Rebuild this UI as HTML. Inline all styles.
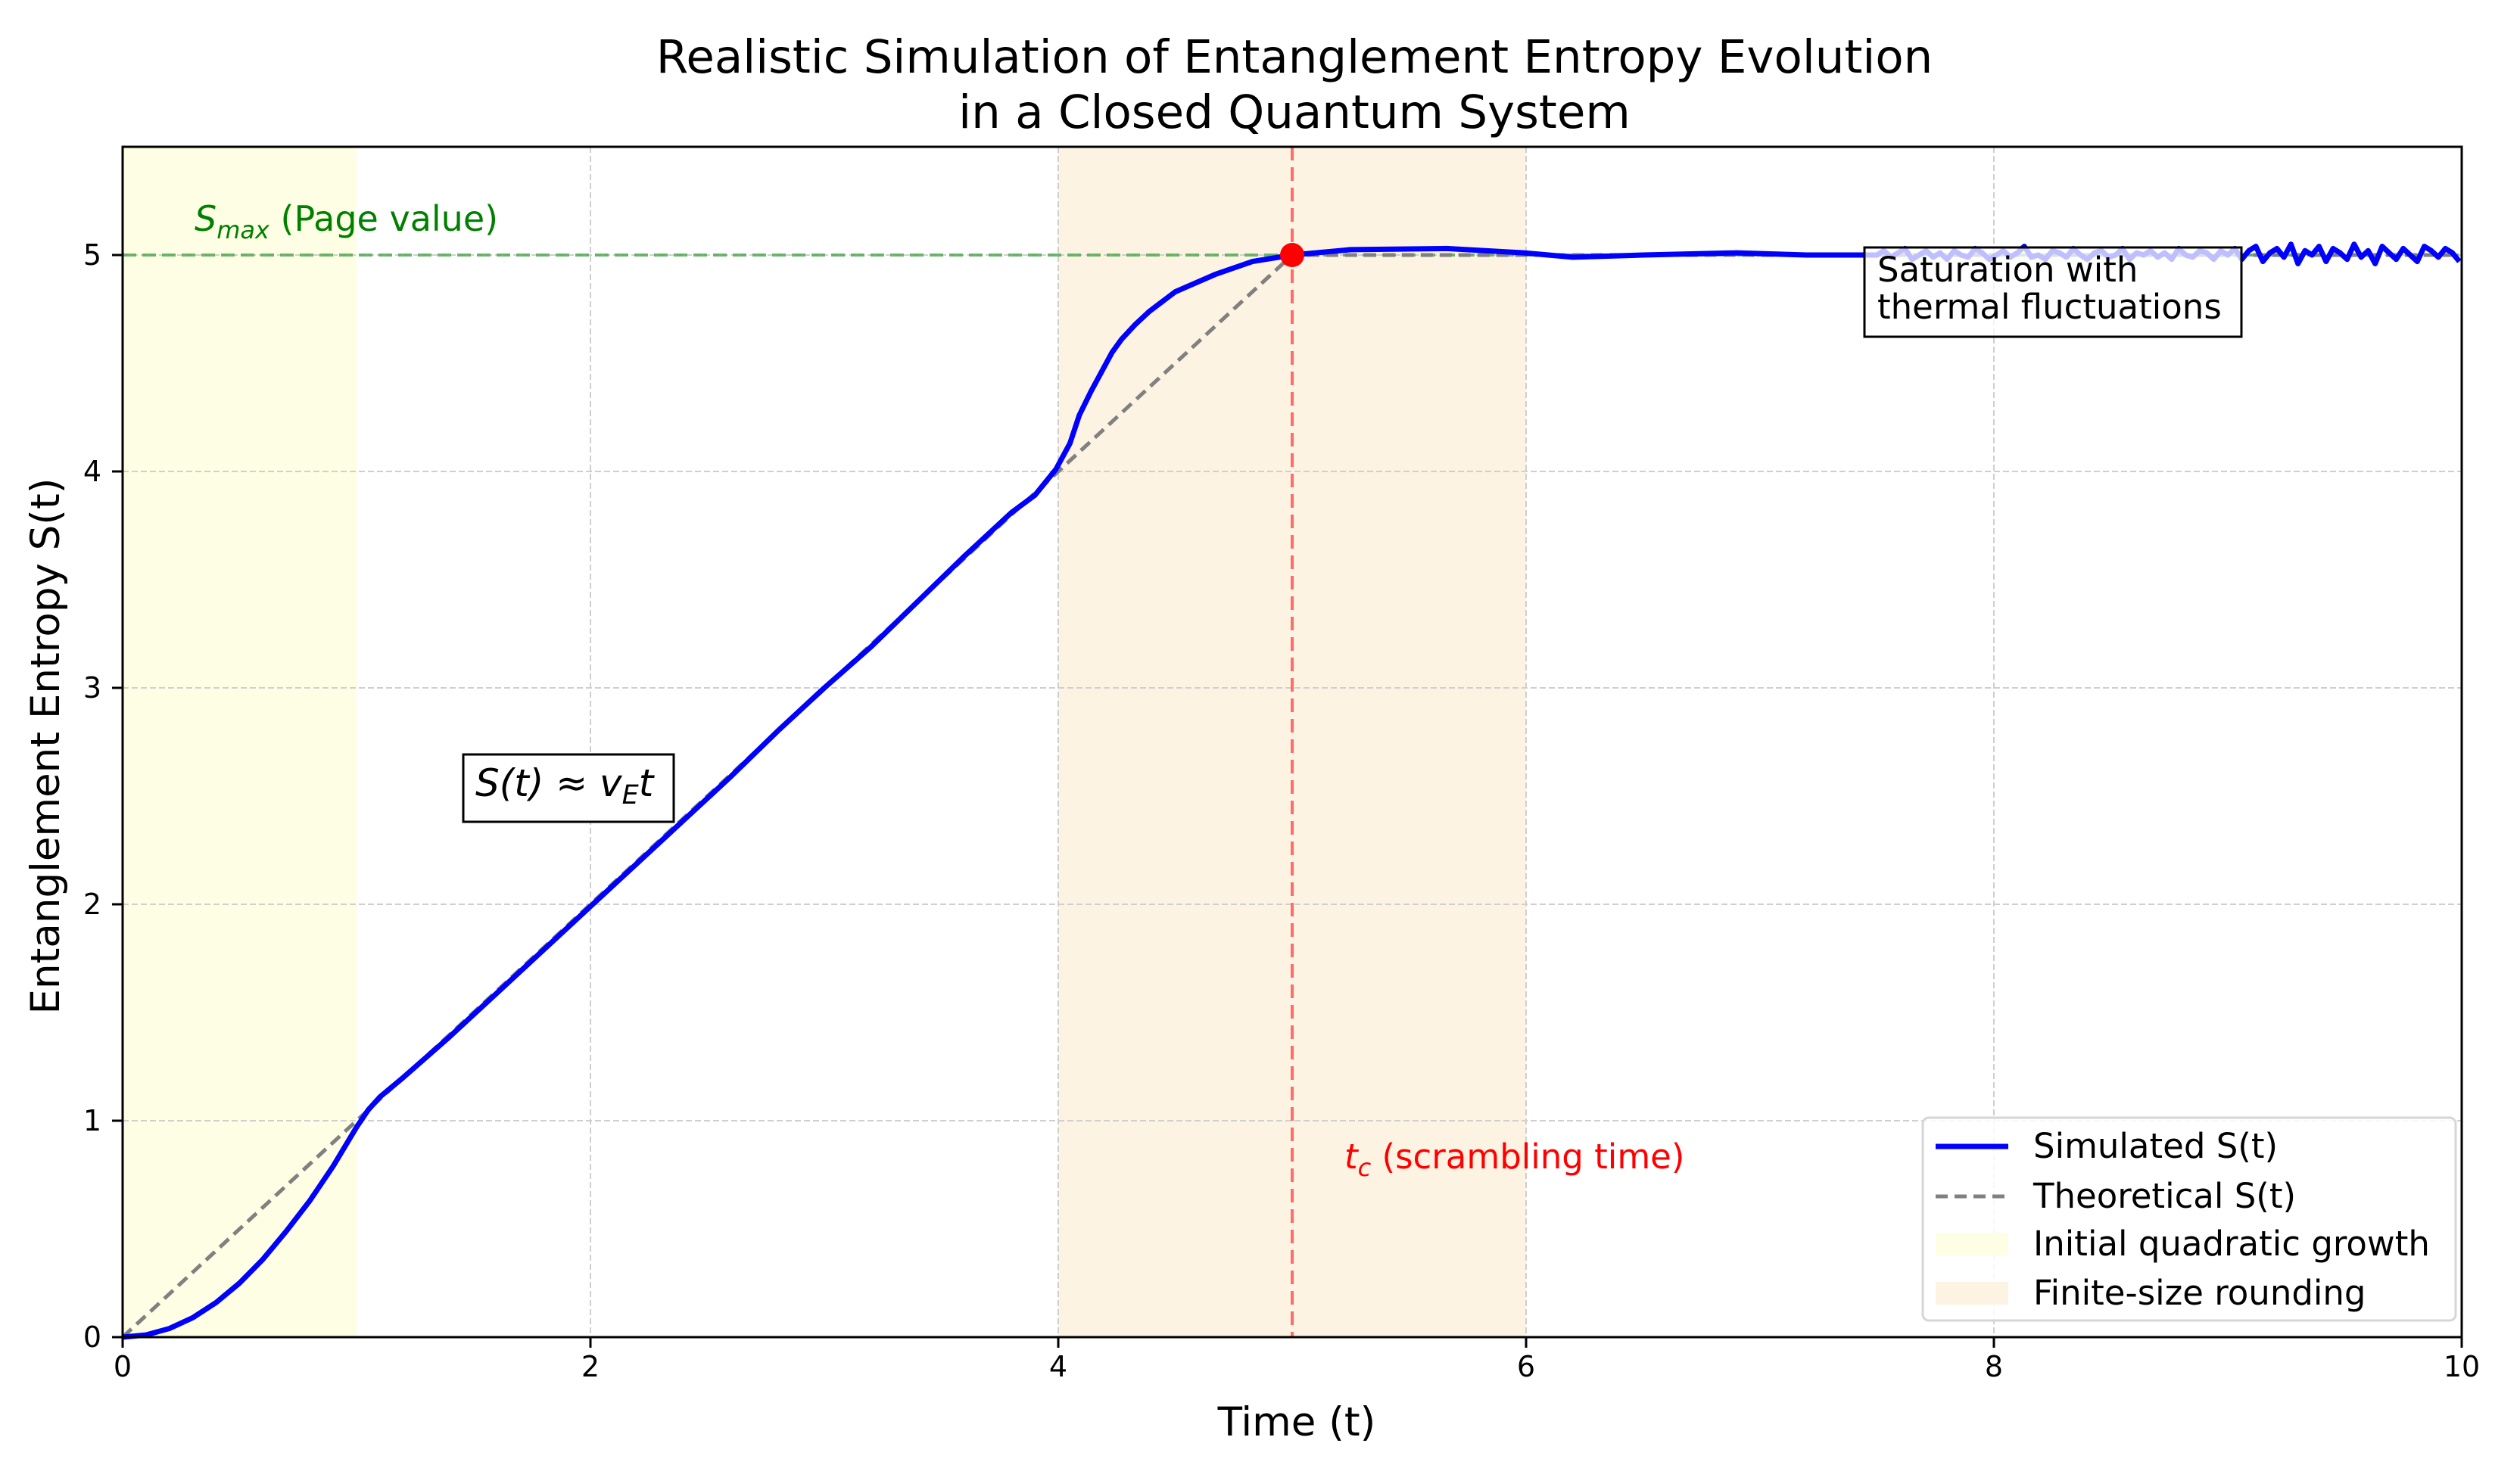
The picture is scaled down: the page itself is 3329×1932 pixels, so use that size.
<!DOCTYPE html>
<html><head><meta charset="utf-8"><style>
html,body{margin:0;padding:0;background:#fff;}
svg{display:block;font-family:"DejaVu Sans","Liberation Sans",sans-serif;}
</style></head><body>
<svg id="chart" width="3329" height="1932" viewBox="0 0 3329 1932" xmlns="http://www.w3.org/2000/svg">
<rect width="3329" height="1932" fill="#fff"/>
<g id="title" font-size="61" text-anchor="middle" fill="#000">
<text x="1710" y="96">Realistic Simulation of Entanglement Entropy Evolution</text>
<text x="1710" y="169">in a Closed Quantum System</text>
</g>
<g id="plot"></g>
</svg>
<script>
const xTicks=[0,2,4,6,8,10];
const yTicks=[0,1,2,3,4,5];
const xTickLabels=["0","2","4","6","8","10"];
const yTickLabels=["0","1","2","3","4","5"];
// simulated S(t) smooth part
const simT=[0,0.1,0.2,0.3,0.4,0.5,0.6,0.7,0.8,0.9,1.0,1.05,1.1,1.2,1.4,1.6,1.8,2.0,2.2,2.4,2.6,2.8,3.0,3.2,3.4,3.6,3.8,3.9,3.99,4.05,4.09,4.14,4.19,4.23,4.27,4.33,4.39,4.5,4.67,4.83,5.0,5.25,5.66,5.99,6.2,6.5,6.9,7.2,7.47];
const simS=[0,0.01,0.04,0.09,0.16,0.25,0.36,0.49,0.63,0.79,0.97,1.05,1.11,1.2,1.39,1.59,1.79,1.99,2.19,2.39,2.59,2.8,3.0,3.19,3.4,3.61,3.81,3.89,4.01,4.13,4.26,4.37,4.47,4.55,4.61,4.68,4.74,4.83,4.91,4.97,5.0,5.025,5.03,5.01,4.99,5.0,5.01,5.0,5.0];
// noisy saturation part, t from 7.50 in 0.03 steps
const noiseStart=7.5, noiseStep=0.03;
const noiseS=[5.00,5.02,4.99,5.01,5.03,4.98,5.00,5.02,4.99,5.01,4.98,5.02,5.00,4.99,5.03,5.01,4.98,5.00,5.02,4.99,5.01,5.04,4.99,5.00,4.98,5.02,5.01,4.99,5.03,5.00,4.98,5.01,5.02,4.99,5.00,5.03,4.98,5.01,5.00,5.02,4.99,5.01,4.98,5.03,5.00,4.99,5.02,5.01,4.98,5.02,5.00,
5.03,4.98,5.02,5.04,4.97,5.01,5.03,4.99,5.05,4.96,5.02,5.00,5.04,4.97,5.03,5.01,4.98,5.05,4.99,5.02,4.96,5.04,5.01,4.98,5.03,5.00,4.97,5.04,5.02,4.99,5.03,5.01,4.97];
const theoT=[0,5,10];
const theoS=[0,5,5];
const sMax=5, tc=5;
const spanInitial=[0,1], spanFinite=[4,6];

const NS="http://www.w3.org/2000/svg";
const L=162,R=3252,T=194,B=1767,xMin=0,xMax=10,yMin=0,yMax=5.5;
const X=v=>L+(v-xMin)/(xMax-xMin)*(R-L);
const Y=v=>B-(v-yMin)/(yMax-yMin)*(B-T);
const plot=document.getElementById('plot');
function mk(tag,attrs,parent){const e=document.createElementNS(NS,tag);for(const k in attrs)e.setAttribute(k,attrs[k]);(parent||plot).appendChild(e);return e;}

let e;
e=mk('rect',{x:X(spanInitial[0]),y:T,width:X(spanInitial[1])-X(spanInitial[0]),height:B-T,fill:'#fefee4'});


e=mk('rect',{x:X(spanFinite[0]),y:T,width:X(spanFinite[1])-X(spanFinite[0]),height:B-T,fill:'#fdf3e3'});



// grid
xTicks.forEach(v=>{if(v>xMin&&v<xMax){e=mk('line',{x1:X(v),x2:X(v),y1:T,y2:B,stroke:'#cfcfcf','stroke-width':2,'stroke-dasharray':'8 4'});

}});
yTicks.forEach(v=>{if(v>yMin){e=mk('line',{x1:L,x2:R,y1:Y(v),y2:Y(v),stroke:'#cfcfcf','stroke-width':2,'stroke-dasharray':'8 4'});

}});

// Smax line
e=mk('line',{x1:L,x2:R,y1:Y(sMax),y2:Y(sMax),stroke:'#55aa55','stroke-width':4,'stroke-dasharray':'18 8','stroke-opacity':0.85});


// theoretical
e=mk('polyline',{points:theoT.map((t,i)=>X(t)+','+Y(theoS[i])).join(' '),fill:'none',stroke:'#808080','stroke-width':5,'stroke-dasharray':'16 9'});


// simulated
const pts=simT.map((t,i)=>X(t)+','+Y(simS[i]));
noiseS.forEach((s,i)=>pts.push(X(noiseStart+i*noiseStep)+','+Y(s)));
e=mk('polyline',{points:pts.join(' '),fill:'none',stroke:'#0000ff','stroke-width':7,'stroke-linejoin':'round'});


// tc line
e=mk('line',{x1:X(tc),x2:X(tc),y1:T,y2:B,stroke:'#ff5555','stroke-width':4,'stroke-dasharray':'18 9','stroke-opacity':0.85});


e=mk('ellipse',{cx:X(tc),cy:Y(sMax),rx:16,ry:16,fill:'#ff0000'});



// axes frame
e=mk('rect',{x:L,y:T,width:R-L,height:B-T,fill:'none',stroke:'#000','stroke-width':3});


xTicks.forEach((v,i)=>{mk('line',{x1:X(v),x2:X(v),y1:B,y2:B+14,stroke:'#000','stroke-width':3});
e=mk('text',{x:X(v),y:B+52,'font-size':38,'text-anchor':'middle',fill:'#000'});e.textContent=xTickLabels[i];

});
yTicks.forEach((v,i)=>{mk('line',{x1:L-14,x2:L,y1:Y(v),y2:Y(v),stroke:'#000','stroke-width':3});
e=mk('text',{x:L-28,y:Y(v)+13,'font-size':38,'text-anchor':'end',fill:'#000'});e.textContent=yTickLabels[i];

});
</script>
<svg style="position:absolute;left:0;top:0" width="3329" height="1932" xmlns="http://www.w3.org/2000/svg" font-family="DejaVu Sans, Liberation Sans, sans-serif">
<text x="1713" y="1897" font-size="53" text-anchor="middle">Time (t)</text>
<text x="78" y="986" font-size="53" text-anchor="middle" transform="rotate(-90 78 986)">Entanglement Entropy S(t)</text>
<text x="257" y="305" font-size="46" fill="#008000"><tspan font-style="italic">S</tspan><tspan font-style="italic" font-size="32" dy="10">max</tspan><tspan dy="-10"> (Page value)</tspan></text>
<text x="1776" y="1544" font-size="45" fill="#ff0000"><tspan font-style="italic">t</tspan><tspan font-style="italic" font-size="32" dy="10">c</tspan><tspan dy="-10"> (scrambling time)</tspan></text>
<g>
<rect x="612" y="997" width="278" height="89" fill="#fff" stroke="#000" stroke-width="3"/>
<text x="628" y="1052" font-size="50" font-style="italic">S(t) ≈ v<tspan font-size="35" dy="10">E</tspan><tspan dy="-10">t</tspan></text>
</g>
<g>
<rect x="2463" y="327" width="498" height="118" fill="#fff" fill-opacity="0.75" stroke="#000" stroke-width="3"/>
<text x="2480" y="372" font-size="45">Saturation with</text>
<text x="2480" y="421" font-size="45">thermal fluctuations</text>
</g>
<g>
<rect x="2540" y="1477" width="704" height="268" rx="8" fill="#fff" fill-opacity="0.85" stroke="#d6d6d6" stroke-width="3"/>
<g><line x1="2557" x2="2653" y1="1515" y2="1515" stroke="#0000ff" stroke-width="7"/><text x="2686" y="1530" font-size="45">Simulated S(t)</text></g>
<g><line x1="2557" x2="2653" y1="1581" y2="1581" stroke="#808080" stroke-width="5" stroke-dasharray="16 9"/><text x="2686" y="1596" font-size="45">Theoretical S(t)</text></g>
<g><rect x="2557" y="1629" width="96" height="30" fill="#fefee4"/><text x="2686" y="1659" font-size="45">Initial quadratic growth</text></g>
<g><rect x="2557" y="1694" width="96" height="30" fill="#fdf3e3"/><text x="2686" y="1724" font-size="45">Finite-size rounding</text></g>
</g>
</svg>
</body></html>
